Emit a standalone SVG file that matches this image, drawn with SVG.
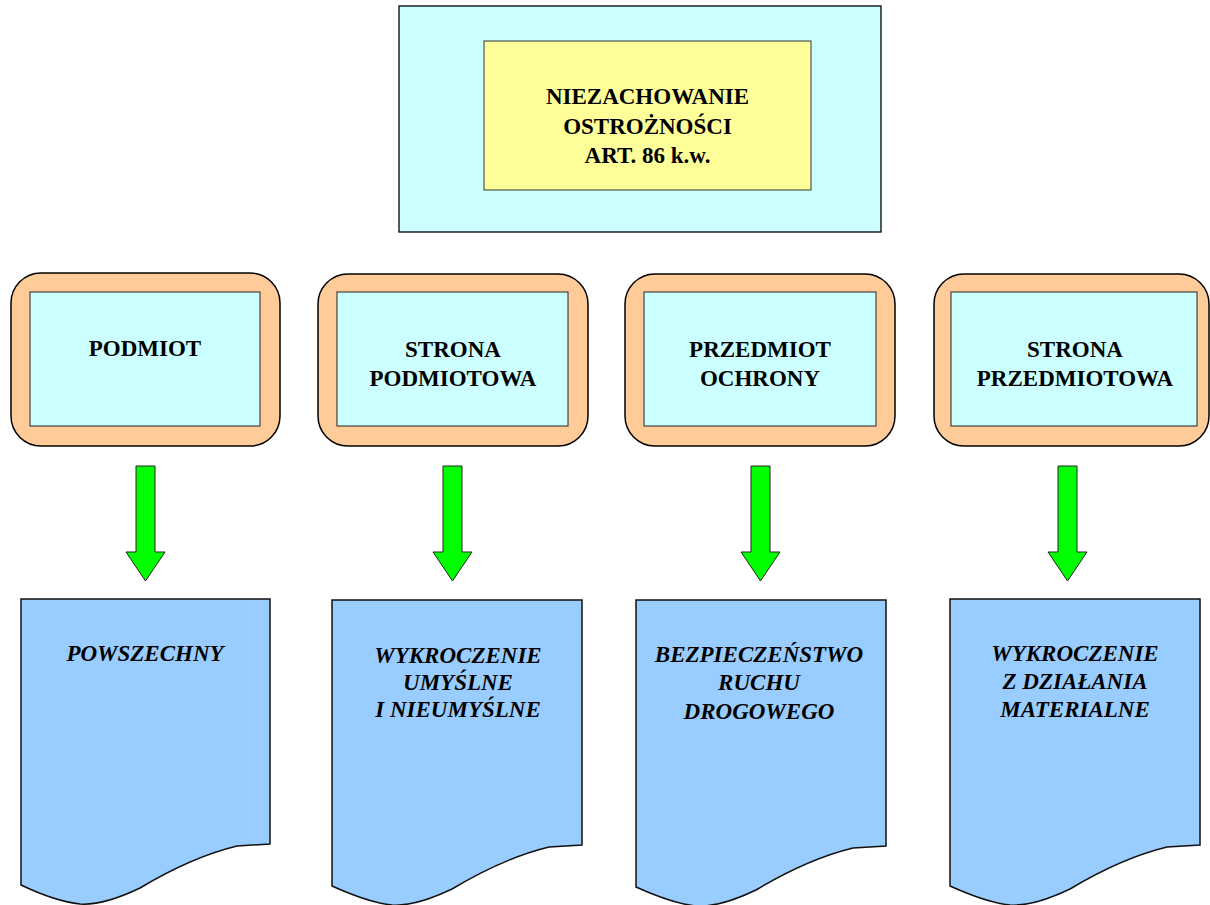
<svg xmlns="http://www.w3.org/2000/svg" width="1210" height="905" viewBox="0 0 1210 905">
<defs>
<style>
.t{font-family:"Liberation Serif","Times New Roman",serif;font-weight:bold;font-size:23px;text-anchor:middle;fill:#000}
.i{font-style:italic}
.outer{fill:#CCFFFF;stroke:#000;stroke-width:1.3}
.yel{fill:#FFFF99;stroke:#333;stroke-width:1}
.orng{fill:#FFCC99;stroke:#000;stroke-width:1.5}
.inn{fill:#CCFFFF;stroke:#222;stroke-width:1}
.doc{fill:#99CCFF;stroke:#111;stroke-width:1.5}
.arr{fill:#00FF00;stroke:#222;stroke-width:1}
</style>
</defs>
<rect width="1210" height="905" fill="#fff"/>
<g id="top">
<rect class="outer" x="399" y="6" width="482" height="226"/>
<rect class="yel" x="484" y="41" width="327" height="149"/>
<text class="t" x="647.5" y="104">NIEZACHOWANIE</text>
<text class="t" x="647.5" y="134">OSTROŻNOŚCI</text>
<text class="t" x="647.5" y="163">ART. 86 k.w.</text>
</g>
<g id="podmiot">
<rect class="orng" x="11" y="273" width="269" height="173" rx="30"/>
<rect class="inn" x="30" y="292" width="230" height="134"/>
<text class="t" x="145" y="356">PODMIOT</text>
</g>
<g id="strona-podmiotowa">
<rect class="orng" x="318" y="274" width="270" height="172" rx="30"/>
<rect class="inn" x="337" y="292" width="231" height="134"/>
<text class="t" x="453" y="357">STRONA</text>
<text class="t" x="453" y="386">PODMIOTOWA</text>
</g>
<g id="przedmiot-ochrony">
<rect class="orng" x="625" y="274" width="270" height="172" rx="30"/>
<rect class="inn" x="644" y="292" width="232" height="134"/>
<text class="t" x="760" y="357">PRZEDMIOT</text>
<text class="t" x="760" y="386">OCHRONY</text>
</g>
<g id="strona-przedmiotowa">
<rect class="orng" x="934" y="274" width="275" height="172" rx="30"/>
<rect class="inn" x="951" y="292" width="246" height="134"/>
<text class="t" x="1075" y="357">STRONA</text>
<text class="t" x="1075" y="386">PRZEDMIOTOWA</text>
</g>
<g id="connectors">
<path class="arr" d="M136,466 H155 V552 H165 L145.5,581 L126,552 H136 Z"/>
<path class="arr" d="M443,466 H462 V552 H472 L452.5,581 L433,552 H443 Z"/>
<path class="arr" d="M751,466 H770 V552 H780 L760.5,581 L741,552 H751 Z"/>
<path class="arr" d="M1058,466 H1077 V552 H1087 L1067.5,581 L1048,552 H1058 Z"/>
</g>
<g id="powszechny">
<path class="doc" d="M21,599 H270 V844 L237,846 C200,855 170,870 140,888 C115,900 95,905 80,904 C60,902 40,894 21,885 Z"/>
<text class="t i" x="145" y="661">POWSZECHNY</text>
</g>
<g id="wykroczenie-umyslne">
<path class="doc" d="M332,600 H582 V845 L549,847 C512,856 482,871 452,889 C427,901 407,906 392,905 C372,903 352,895 332,886 Z"/>
<text class="t i" x="458" y="663">WYKROCZENIE</text>
<text class="t i" x="458" y="690">UMYŚLNE</text>
<text class="t i" x="458" y="717">I NIEUMYŚLNE</text>
</g>
<g id="bezpieczenstwo">
<path class="doc" d="M636,600 H886 V846 L853,848 C816,857 786,872 756,890 C731,902 711,907 696,906 C676,904 656,896 636,887 Z"/>
<text class="t i" x="759" y="662">BEZPIECZEŃSTWO</text>
<text class="t i" x="759" y="690">RUCHU</text>
<text class="t i" x="759" y="719">DROGOWEGO</text>
</g>
<g id="wykroczenie-materialne">
<path class="doc" d="M950,599 H1200 V845 L1167,847 C1130,856 1100,871 1070,889 C1045,901 1025,906 1010,905 C990,903 970,895 950,886 Z"/>
<text class="t i" x="1075" y="661">WYKROCZENIE</text>
<text class="t i" x="1075" y="689">Z DZIAŁANIA</text>
<text class="t i" x="1075" y="717">MATERIALNE</text>
</g>
</svg>
